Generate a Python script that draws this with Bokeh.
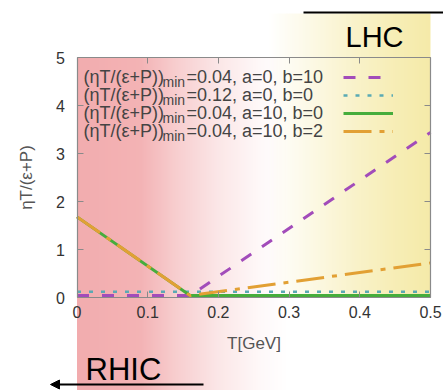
import math
import numpy as np
from bokeh.plotting import figure
from bokeh.models import (Range1d, LinearAxis, FixedTicker, Label, Arrow, NormalHead,
                          Legend, LegendItem)
from bokeh.core.properties import value
from bokeh.embed import file_html
from bokeh.resources import INLINE

# ---------------- data ----------------
T = [0.0, 0.16, 0.5]
eta_a0_b10 = [0.04, 0.04, 3.44]
eta_min012 = [0.12, 0.12, 0.12]
eta_a10_b0 = [1.68, 0.04, 0.04]
eta_a10_b2 = [1.68, 0.04, 0.72]

x_ticks = [0, 0.1, 0.2, 0.3, 0.4, 0.5]
x_tick_labels = ["0", "0.1", "0.2", "0.3", "0.4", "0.5"]
y_ticks = [0, 1, 2, 3, 4, 5]
y_tick_labels = ["0", "1", "2", "3", "4", "5"]

legend_mins = ["0.04", "0.12", "0.04", "0.04"]
legend_ab = ["a=0, b=10", "a=0, b=0", "a=10, b=0", "a=10, b=2"]

FONT = "Liberation Sans"

# page pixel -> data helpers (for annotation placement)
def px2T(x):
    return (x - 76.5) / 707.0

def py2v(y):
    return (297.0 - y) / 48.0

W, H = 443, 390
p = figure(width=W, height=H, output_backend="svg", toolbar_location=None,
           x_range=Range1d(px2T(0), px2T(W)), y_range=Range1d(py2v(H), py2v(0)),
           x_axis_location=None, y_axis_location=None, min_border=0)
p.grid.visible = False
p.outline_line_color = None
p.background_fill_color = "white"
p.border_fill_color = "white"

# ---------------- background gradients ----------------
def grad_image(rgb, stops_x, stops_a, x0, x1, n=500, rows=40):
    xs = np.linspace(x0, x1, n)
    a = np.interp(xs, stops_x, stops_a)
    img = np.zeros((rows, n), dtype=np.uint32)
    view = img.view(dtype=np.uint8).reshape((rows, n, 4))
    view[:, :, 0] = rgb[0]
    view[:, :, 1] = rgb[1]
    view[:, :, 2] = rgb[2]
    view[:, :, 3] = (a * 255).astype(np.uint8)[None, :]
    return img

pink_x0, pink_x1 = 0.0, 0.30
pink = grad_image((242, 172, 174), [0.0, 0.09, 0.14, 0.2, 0.26, 0.30],
                  [1.0, 0.92, 0.6, 0.3, 0.08, 0.0], pink_x0, pink_x1)
p.image_rgba(image=[pink], x=pink_x0, y=py2v(H), dw=pink_x1 - pink_x0,
             dh=5.0 - py2v(H))

yel_x0, yel_x1 = 0.27, 0.5
yel = grad_image((245, 234, 168), [0.27, 0.33, 0.39, 0.45, 0.5],
                 [0.0, 0.3, 0.6, 0.85, 1.0], yel_x0, yel_x1)
p.image_rgba(image=[yel], x=yel_x0, y=0.0, dw=yel_x1 - yel_x0, dh=py2v(13))

# ---------------- curves ----------------
r1 = p.line(T, eta_a0_b10, line_color="#a24cba", line_width=3, line_dash="12 13")
r2 = p.line(T, eta_min012, line_color="#5aaab4", line_width=2.5, line_dash="4 8")
r3 = p.line(T, eta_a10_b0, line_color="#46ad3c", line_width=3)
r4 = p.line(T, eta_a10_b2, line_color="#e2a034", line_width=3, line_dash="28 8 5 8")

# ---------------- axes (gnuplot-style box) ----------------
def mk_axis(loc, ticks, labels, bounds, show_labels):
    ax = LinearAxis(fixed_location=loc, ticker=FixedTicker(ticks=ticks), bounds=bounds,
                    major_label_overrides={t: l for t, l in zip(ticks, labels)})
    ax.axis_line_color = "#8a8a8a"
    ax.axis_line_width = 1.2
    ax.major_tick_line_color = "#8a8a8a"
    ax.major_tick_in = 6
    ax.major_tick_out = 0
    ax.minor_tick_line_color = None
    ax.major_label_text_font = FONT
    ax.major_label_text_font_size = "16px"
    ax.major_label_text_color = "#333333" if show_labels else None
    ax.axis_label_text_font = FONT
    ax.axis_label_text_font_style = "normal"
    ax.axis_label_text_font_size = "17px"
    ax.axis_label_text_color = "#555555"
    return ax

xb = mk_axis(0, x_ticks, x_tick_labels, (0, 0.5), True)
xb.major_label_standoff = 8
xb.axis_label = "T[GeV]"
xb.axis_label_standoff = 13
p.add_layout(xb, "below")

xt = mk_axis(5, x_ticks, x_tick_labels, (0, 0.5), False)
p.add_layout(xt, "above")

yl = mk_axis(0, y_ticks, y_tick_labels, (0, 5), True)
yl.major_label_standoff = 12
p.add_layout(yl, "left")

yr = mk_axis(0.5, y_ticks, y_tick_labels, (0, 5), False)
p.add_layout(yr, "right")

# y-axis title placed at the reference position
p.add_layout(Label(x=px2T(26), y=py2v(177), text="ηT/(ε+P)", angle=math.pi / 2,
                   text_font=FONT, text_font_size="17px", text_color="#555555",
                   text_align="center", text_baseline="middle"))

# ---------------- legend (texts + samples) ----------------
row_mid = [76, 94, 112, 130]
for i in range(4):
    m = row_mid[i]
    p.add_layout(Label(x=px2T(83), y=py2v(m), text="(ηT/(ε+P))", text_font=FONT,
                       text_font_size="18px", text_color="#444444",
                       text_baseline="middle"))
    p.add_layout(Label(x=px2T(162), y=py2v(m + 5), text="min", text_font=FONT,
                       text_font_size="14px", text_color="#444444",
                       text_baseline="middle"))
    p.add_layout(Label(x=px2T(186), y=py2v(m), text="=" + legend_mins[i] + ", " + legend_ab[i],
                       text_font=FONT, text_font_size="18px", text_color="#444444",
                       text_baseline="middle"))

legend = Legend(items=[LegendItem(label=value(" "), renderers=[r]) for r in (r1, r2, r3, r4)],
                location=(343, H - 68 - 72), orientation="vertical",
                glyph_width=50, glyph_height=18, label_height=18, label_width=1,
                label_standoff=0, padding=0, spacing=0, margin=0,
                background_fill_alpha=0, border_line_alpha=0,
                label_text_font_size="1px")
p.add_layout(legend)

# ---------------- RHIC / LHC annotations ----------------
p.add_layout(Label(x=px2T(345), y=py2v(36), text="LHC", text_font=FONT,
                   text_font_size="29px", text_color="black", text_baseline="middle"))
p.add_layout(Arrow(end=None, x_start=px2T(303), y_start=py2v(12), x_end=px2T(460),
                   y_end=py2v(12), line_color="black", line_width=2))

p.add_layout(Label(x=px2T(85), y=py2v(369), text="RHIC", text_font=FONT,
                   text_font_size="31px", text_color="black", text_baseline="middle"))
p.add_layout(Arrow(end=NormalHead(size=9, fill_color="black", line_color="black"),
                   x_start=px2T(203), y_start=py2v(384), x_end=px2T(50), y_end=py2v(384),
                   line_color="black", line_width=2))

open("out.html", "w").write(file_html(p, INLINE))
